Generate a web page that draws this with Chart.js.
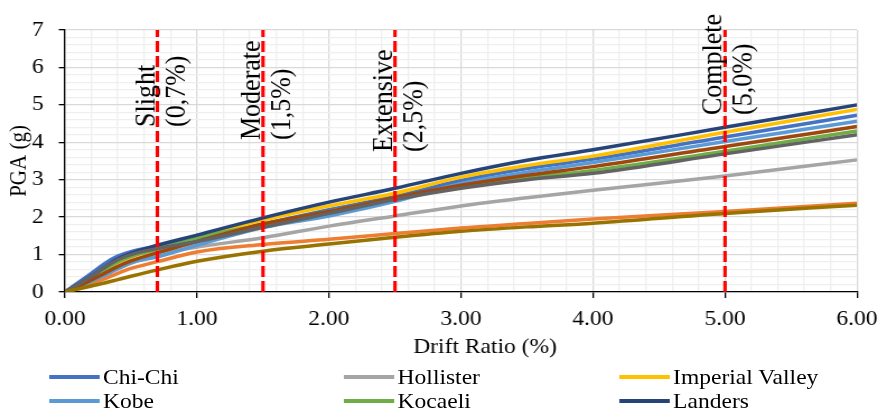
<!DOCTYPE html>
<html>
<head>
<meta charset="utf-8">
<script src="https://cdn.jsdelivr.net/npm/chart.js@4.4.1/dist/chart.umd.min.js"></script>
<style>
  html, body { margin: 0; padding: 0; background: #fff; overflow: hidden; }
  #stage { position: absolute; left: 0; top: 0; width: 785px; height: 414px;
           transform: scaleX(1.12); transform-origin: 0 0; }
  #chart { position: absolute; left: 0; top: 0; }
  #legend { position: absolute; left: 0; top: 0; width: 785px; height: 414px;
            font-family: "Liberation Serif", "Times New Roman", serif; font-size: 21px; color: #000; }
  .item { position: absolute; display: flex; align-items: center; height: 24px; white-space: nowrap; }
  .swatch { display: inline-block; height: 4px; margin-right: 3px; }
</style>
</head>
<body>
<div id="stage">
  <canvas id="chart" width="785" height="414"></canvas>
  <div id="legend"></div>
</div>
<script>
// Drift ratio (%) sample points shared by every curve
const drift = [0, 0.1, 0.2, 0.3, 0.4, 0.5, 0.7, 1.0, 1.5, 2.0, 2.5, 3.0, 3.5, 4.0, 5.0, 6.0];

// PGA (g) capacity curves per record
const chiChi         = [0, 0.25, 0.50, 0.76, 0.96, 1.08, 1.22, 1.42, 1.82, 2.20, 2.55, 2.98, 3.30, 3.55, 4.14, 4.72];
const duzce          = [0, 0.11, 0.23, 0.35, 0.50, 0.63, 0.81, 1.07, 1.27, 1.41, 1.56, 1.71, 1.83, 1.95, 2.15, 2.37];
const hollister      = [0, 0.15, 0.30, 0.46, 0.62, 0.77, 1.00, 1.20, 1.45, 1.76, 2.03, 2.30, 2.52, 2.72, 3.10, 3.53];
const imperialValley = [0, 0.18, 0.37, 0.58, 0.78, 0.93, 1.15, 1.45, 1.92, 2.30, 2.64, 3.07, 3.38, 3.63, 4.27, 4.88];
const kobe           = [0, 0.14, 0.29, 0.45, 0.62, 0.78, 0.94, 1.25, 1.72, 2.03, 2.42, 2.90, 3.20, 3.46, 4.02, 4.56];
const kocaeli        = [0, 0.18, 0.38, 0.60, 0.80, 0.95, 1.15, 1.45, 1.80, 2.15, 2.50, 2.80, 3.05, 3.25, 3.76, 4.30];
const landers        = [0, 0.20, 0.42, 0.66, 0.88, 1.03, 1.25, 1.52, 1.98, 2.40, 2.77, 3.17, 3.52, 3.80, 4.40, 5.00];
const lomaPrieta     = [0, 0.15, 0.32, 0.50, 0.68, 0.83, 1.05, 1.35, 1.82, 2.15, 2.52, 2.85, 3.12, 3.35, 3.89, 4.42];
const northridge     = [0, 0.20, 0.42, 0.66, 0.86, 1.00, 1.16, 1.35, 1.73, 2.10, 2.47, 2.77, 3.00, 3.17, 3.69, 4.20];
const sanFernando    = [0, 0.08, 0.16, 0.24, 0.33, 0.42, 0.59, 0.82, 1.09, 1.28, 1.46, 1.62, 1.74, 1.84, 2.10, 2.32];

// Damage state thresholds
const damageStates = ['Slight', 'Moderate', 'Extensive', 'Complete'];
const damageDrift  = [0.7, 1.5, 2.5, 5.0];
const damageText   = ['(0,7%)', '(1,5%)', '(2,5%)', '(5,0%)'];

// Axis tick labels shown on the major grid
const xTickLabels = ['0.00', '1.00', '2.00', '3.00', '4.00', '5.00', '6.00'];
const yTickLabels = ['0', '1', '2', '3', '4', '5', '6', '7'];

const series = [
  { label: 'Chi-Chi',         data: chiChi,         color: '#4472C4', legend: true },
  { label: 'Düzce',           data: duzce,          color: '#ED7D31', legend: false },
  { label: 'Hollister',       data: hollister,      color: '#A5A5A5', legend: true },
  { label: 'Imperial Valley', data: imperialValley, color: '#FFC000', legend: true },
  { label: 'Kobe',            data: kobe,           color: '#5B9BD5', legend: true },
  { label: 'Kocaeli',         data: kocaeli,        color: '#70AD47', legend: true },
  { label: 'Landers',         data: landers,        color: '#264478', legend: true },
  { label: 'Loma Prieta',     data: lomaPrieta,     color: '#9E480E', legend: false },
  { label: 'Northridge',      data: northridge,     color: '#636363', legend: false },
  { label: 'San Fernando',    data: sanFernando,    color: '#997300', legend: false }
];

const FONT = '"Liberation Serif", "Times New Roman", serif';
const isMajor = v => Math.abs(v - Math.round(v)) < 1e-6;

// Layout of the damage-state captions: pixel offset below the plot top where each caption starts
const captionStart = [97, 110, 122, 85];

const damagePlugin = {
  id: 'damageStates',
  afterDatasetsDraw(chart) {
    const { ctx, chartArea, scales } = chart;
    ctx.save();
    damageDrift.forEach((d, i) => {
      const x = scales.x.getPixelForValue(d);
      ctx.beginPath();
      ctx.setLineDash([11, 4]);
      ctx.lineWidth = 3.1;
      ctx.strokeStyle = '#FF0000';
      ctx.moveTo(x, scales.y.getPixelForValue(0));
      ctx.lineTo(x, chartArea.top);
      ctx.stroke();
    });
    ctx.setLineDash([]);
    ctx.fillStyle = '#000';
    ctx.font = '26px ' + FONT;
    ctx.textAlign = 'left';
    ctx.textBaseline = 'alphabetic';
    damageDrift.forEach((d, i) => {
      const x = scales.x.getPixelForValue(d);
      ctx.save();
      ctx.translate(x, chartArea.top + captionStart[i]);
      ctx.rotate(-Math.PI / 2);
      ctx.fillText(damageStates[i], 0, -3);
      ctx.fillText(damageText[i], 0, 24);
      ctx.restore();
    });
    // x axis title
    ctx.font = '21px ' + FONT;
    ctx.textAlign = 'center';
    ctx.fillText('Drift Ratio (%)', (chartArea.left + chartArea.right) / 2 + 21.5, 353);
    ctx.restore();
  }
};

const chart = new Chart(document.getElementById('chart'), {
  type: 'line',
  data: {
    datasets: series.map((s, i) => ({
      label: s.label,
      data: drift.map((x, k) => ({ x: x, y: s.data[k] })),
      borderColor: s.color,
      backgroundColor: s.color,
      borderWidth: 3.5,
      pointRadius: 0,
      fill: false,
      cubicInterpolationMode: 'monotone',
      order: -i
    }))
  },
  options: {
    responsive: false,
    animation: false,
    layout: { padding: { left: 0, right: 19.8, top: 30, bottom: 82 } },
    plugins: { legend: { display: false }, tooltip: { enabled: false } },
    scales: {
      x: {
        type: 'linear', min: 0, max: 6,
        afterFit(s) { s.height = 40; s.paddingLeft = 0; s.paddingRight = 0; },
        ticks: {
          stepSize: 0.2, autoSkip: false, maxRotation: 0, padding: 9,
          color: '#000', font: { family: FONT, size: 21 },
          callback: v => isMajor(v) ? xTickLabels[Math.round(v)] : ''
        },
        grid: {
          color: c => isMajor(c.tick.value) ? '#D9D9D9' : '#EFEFEF',
          lineWidth: 1.3,
          tickLength: 6,
          tickColor: c => isMajor(c.tick.value) ? '#000' : 'rgba(0,0,0,0)'
        },
        border: { color: '#000', width: 1.3 }
      },
      y: {
        min: 0, max: 7,
        afterFit(s) { s.width = 58; s.paddingTop = 0; s.paddingBottom = 0; },
        ticks: {
          stepSize: 0.2, autoSkip: false, padding: 13.5,
          color: '#000', font: { family: FONT, size: 21 },
          callback: v => isMajor(v) ? yTickLabels[Math.round(v)] : ''
        },
        grid: {
          color: c => isMajor(c.tick.value) ? '#D9D9D9' : '#EFEFEF',
          lineWidth: 1.3,
          tickLength: 5.5,
          tickColor: c => isMajor(c.tick.value) ? '#000' : 'rgba(0,0,0,0)'
        },
        border: { color: '#000', width: 1.3 },
        title: {
          display: true, text: 'PGA (g)', color: '#000',
          font: { family: FONT, size: 21 }, padding: { top: 5.3, bottom: 0 }
        }
      }
    }
  },
  plugins: [damagePlugin]
});

// Legend: three columns, two rows, built from the chart's datasets
const legendCols = [44, 307, 553];
const legendRows = [365, 389];
const legendEl = document.getElementById('legend');
chart.data.datasets.filter((d, i) => series[i].legend).forEach((d, k) => {
  const item = document.createElement('div');
  item.className = 'item';
  item.style.left = legendCols[k % 3] + 'px';
  item.style.top = legendRows[Math.floor(k / 3)] + 'px';
  const sw = document.createElement('span');
  sw.className = 'swatch';
  sw.style.width = '45px';
  sw.style.background = d.borderColor;
  const tx = document.createElement('span');
  tx.textContent = d.label;
  item.appendChild(sw);
  item.appendChild(tx);
  legendEl.appendChild(item);
});
</script>
</body>
</html>
